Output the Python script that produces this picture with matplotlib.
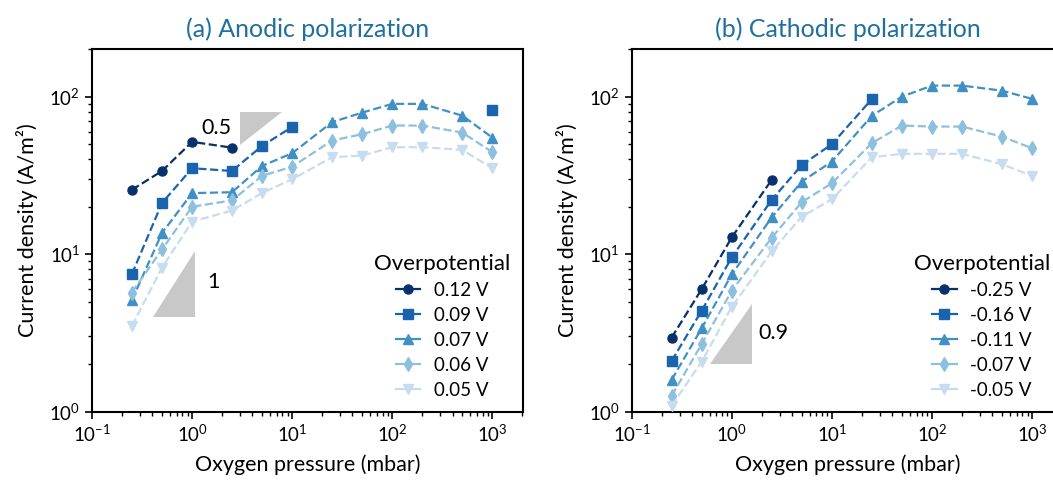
import numpy as np
import matplotlib
matplotlib.use("Agg")
import matplotlib.pyplot as plt

plt.rcParams['font.family'] = ['Lato', 'DejaVu Sans']
plt.rcParams['mathtext.default'] = 'regular'

# oxygen pressure (mbar)
pressure = [0.25, 0.5, 1, 2.5, 5, 10, 25, 50, 100, 200, 500, 1000]
nan = np.nan

# (a) anodic
anodic_labels = ['0.12 V', '0.09 V', '0.07 V', '0.06 V', '0.05 V']
an_012 = [25.6, 33.7, 51.6, 47.4, nan, nan, nan, nan, nan, nan, nan, nan]
an_009 = [7.45, 21.1, 35.1, 33.7, 48.6, 64.2, nan, nan, nan, nan, nan, 82.0]
an_007 = [5.1, 13.6, 24.4, 24.7, 36.3, 43.7, 68.8, 79.1, 89.9, 89.9, 75.7, 54.9]
an_006 = [5.7, 10.7, 20.0, 21.9, 31.4, 35.9, 52.6, 57.7, 65.5, 65.5, 59.1, 44.4]
an_005 = [3.5, 8.2, 16.1, 18.9, 24.4, 29.9, 41.2, 42.2, 47.7, 47.7, 45.9, 35.1]

# (b) cathodic
cathodic_labels = ['-0.25 V', '-0.16 V', '-0.11 V', '-0.07 V', '-0.05 V']
ca_025 = [2.95, 6.0, 12.8, 29.6, nan, nan, nan, nan, nan, nan, nan, nan]
ca_016 = [2.1, 4.38, 9.56, 22.1, 36.8, 49.9, 96.3, nan, nan, nan, nan, nan]
ca_011 = [1.59, 3.39, 7.45, 17.1, 28.9, 38.7, 75.4, 100, 117.4, 117.4, 109, 96.7]
ca_007 = [1.26, 2.69, 5.87, 12.7, 21.4, 28.2, 50.6, 65.5, 64.5, 64.5, 55.7, 47.0]
ca_005 = [1.09, 2.08, 4.64, 10.4, 17.3, 22.3, 41.2, 43.3, 43.3, 43.3, 37.2, 31.4]

colors = ['#08306b', '#1964ad', '#4090c5', '#8dc0df', '#c8dcef']
markers = ['o', 's', '^', 'd', 'v']
title_color = '#1f6f9f'

fig = plt.figure(figsize=(10.53, 4.82), dpi=100)
ax1 = fig.add_axes([0.0874, 0.146, 0.4096, 0.752])
ax2 = fig.add_axes([0.6000, 0.146, 0.4096, 0.752])


def slope_triangle(ax, x0, x1, y0, slope, upper=False):
    y1 = y0 * (x1 / x0) ** slope
    if upper:
        xs, ys = [x0, x0, x1], [y0, y1, y1]
    else:
        xs, ys = [x0, x1, x1], [y0, y0, y1]
    ax.fill(xs, ys, color='#c8c8c8', lw=0, zorder=1)


def panel(ax, series, labels, title):
    for i, ys in enumerate(series):
        ax.plot(pressure, ys, ls='--', marker=markers[i], color=colors[i],
                ms=6.5 if markers[i] != 'd' else 7, lw=1.6, label=labels[i], zorder=3)
    ax.set_xscale('log')
    ax.set_yscale('log')
    ax.set_xlim(0.1, 2040)
    ax.set_ylim(1, 200)
    ax.set_xlabel('Oxygen pressure (mbar)', fontsize=15.5, labelpad=7)
    ax.set_ylabel('Current density (A/m²)', fontsize=15.5, labelpad=8)
    ax.set_title(title, fontsize=18, color=title_color, pad=9)
    ax.tick_params(which='major', length=5, width=1.2, labelsize=13.5)
    ax.tick_params(which='minor', length=3, width=1.0)
    for s in ax.spines.values():
        s.set_linewidth(1.5)
    leg = ax.legend(loc='lower right', frameon=False, fontsize=13.5,
                    title='Overpotential', title_fontsize=16,
                    handlelength=1.3, handletextpad=0.7,
                    labelspacing=0.42, borderaxespad=0.3)
    for ln in leg.get_lines():
        ln.set_linestyle('-')
    return leg


panel(ax1, [an_012, an_009, an_007, an_006, an_005], anodic_labels,
      '(a) Anodic polarization')
slope_triangle(ax1, 0.41, 1.08, 4.0, 1.0)
ax1.text(1.42, 6.7, '1', fontsize=15.5, ha='left', va='center')
slope_triangle(ax1, 3.0, 7.9, 49.4, 0.5, upper=True)
ax1.text(1.75, 63, '0.5', fontsize=15.5, ha='center', va='center')

panel(ax2, [ca_025, ca_016, ca_011, ca_007, ca_005], cathodic_labels,
      '(b) Cathodic polarization')
slope_triangle(ax2, 0.6, 1.6, 2.0, 0.9)
ax2.text(2.6, 3.15, '0.9', fontsize=15.5, ha='center', va='center')

fig.savefig('out.png', dpi=100)
